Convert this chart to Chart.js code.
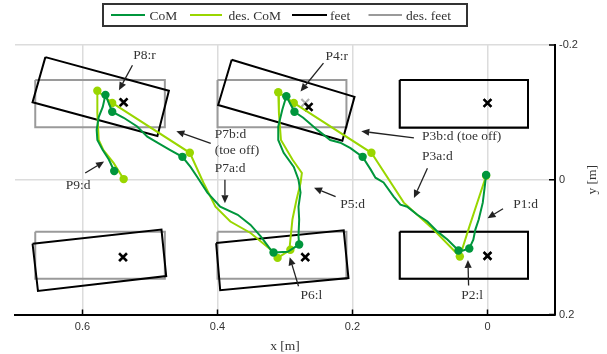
<!DOCTYPE html>
<html><head><meta charset="utf-8">
<script src="https://cdn.jsdelivr.net/npm/chart.js@4.4.0/dist/chart.umd.min.js"></script>
<style>html,body{margin:0;padding:0;background:#fff;}</style>
</head><body>
<canvas id="c" width="607" height="354"></canvas>
<script>
// ---- axes ----
const xTicks = [0.6, 0.4, 0.2, 0];
const xTickLabels = ['0.6', '0.4', '0.2', '0'];
const yTicks = [-0.2, 0, 0.2];
const yTickLabels = ['-0.2', '0', '0.2'];
const xTitle = 'x [m]';
const yTitle = 'y [m]';

// ---- legend ----
const legendNames = ['CoM', 'des. CoM', 'feet', 'des. feet'];

// ---- measured CoM [x, y, phase marker] ----
const com = [
  [0.002,-0.007,1],[0.007,0.034,0],[0.013,0.059,0],[0.018,0.074,0],[0.021,0.089,0],
  [0.027,0.102,1],[0.036,0.105,0],[0.043,0.105,1],[0.059,0.089,0],[0.074,0.077,0],
  [0.089,0.062,0],[0.104,0.052,0],[0.119,0.040,0],[0.129,0.037,0],[0.139,0.025,0],
  [0.154,0.004,0],[0.166,-0.003,0],[0.173,-0.015,0],[0.185,-0.034,1],[0.203,-0.047,0],
  [0.218,-0.055,0],[0.233,-0.059,0],[0.252,-0.074,0],[0.273,-0.092,0],[0.286,-0.101,1],
  [0.298,-0.124,1],[0.304,-0.104,0],[0.310,-0.079,0],[0.310,-0.059,0],[0.302,-0.040,0],
  [0.287,-0.019,0],[0.280,0.000,0],[0.277,0.019,0],[0.280,0.040,0],[0.279,0.059,0],
  [0.280,0.084,0],[0.279,0.096,1],[0.296,0.107,0],[0.317,0.108,1],[0.321,0.104,0],
  [0.336,0.084,0],[0.351,0.067,0],[0.370,0.052,0],[0.396,0.040,0],[0.415,0.019,0],
  [0.430,-0.004,0],[0.440,-0.019,0],[0.452,-0.034,1],[0.470,-0.044,0],[0.484,-0.052,0],
  [0.504,-0.064,0],[0.519,-0.079,0],[0.539,-0.092,0],[0.556,-0.101,1],[0.566,-0.126,1],
  [0.570,-0.108,0],[0.576,-0.093,0],[0.579,-0.074,0],[0.578,-0.059,0],[0.570,-0.044,0],
  [0.561,-0.030,0],[0.553,-0.013,1]
];

// ---- desired CoM [x, y, phase marker] ----
const desCom = [
  [0.002,-0.006,1],[0.027,0.070,0],[0.040,0.111,0],[0.041,0.114,1],[0.084,0.070,0],
  [0.124,0.034,0],[0.172,-0.040,1],[0.287,-0.114,1],[0.310,-0.130,1],[0.309,-0.099,0],
  [0.306,-0.059,0],[0.289,-0.030,0],[0.275,-0.010,0],[0.277,0.005,0],[0.283,0.030,0],
  [0.289,0.059,0],[0.293,0.099,0],[0.292,0.104,1],[0.311,0.116,1],[0.321,0.104,0],
  [0.351,0.079,0],[0.381,0.062,0],[0.403,0.040,0],[0.421,0.004,0],[0.441,-0.040,1],
  [0.556,-0.114,1],[0.578,-0.132,1],[0.578,-0.099,0],[0.576,-0.059,0],[0.569,-0.044,0],
  [0.554,-0.025,0],[0.539,-0.001,1]
];

// ---- feet outlines (corners) ----
const feetActual = [
  [[0.130,-0.148],[-0.060,-0.148],[-0.060,-0.077],[0.130,-0.077]],
  [[0.130,0.077],[-0.060,0.077],[-0.060,0.147],[0.130,0.147]],
  [[0.379,-0.178],[0.197,-0.123],[0.215,-0.058],[0.399,-0.111]],
  [[0.402,0.094],[0.213,0.075],[0.206,0.146],[0.396,0.164]],
  [[0.655,-0.182],[0.472,-0.132],[0.489,-0.065],[0.674,-0.115]],
  [[0.674,0.095],[0.483,0.074],[0.476,0.143],[0.666,0.165]]
];
const feetDesired = [
  [[0.130,-0.148],[-0.060,-0.148],[-0.060,-0.078],[0.130,-0.078]],
  [[0.130,0.077],[-0.060,0.077],[-0.060,0.147],[0.130,0.147]],
  [[0.400,-0.148],[0.209,-0.148],[0.209,-0.078],[0.400,-0.078]],
  [[0.400,0.077],[0.209,0.077],[0.209,0.147],[0.400,0.147]],
  [[0.670,-0.148],[0.478,-0.148],[0.478,-0.078],[0.670,-0.078]],
  [[0.670,0.077],[0.478,0.077],[0.478,0.147],[0.670,0.147]]
];
const anklesActual = [[0,-0.114],[0,0.113],[0.265,-0.108],[0.270,0.115],[0.539,-0.115],[0.540,0.115]];
const anklesDesired = [[0,-0.114],[0,0.113],[0.270,-0.114],[0.270,0.114],[0.540,-0.114],[0.540,0.114]];

// ---- annotations: [text, x, y] (left edge, middle) and arrows [x1,y1,x2,y2] ----
const annotLabels = [
  ['P8:r',0.525,-0.184],['P4:r',0.240,-0.183],['P7b:d',0.404,-0.067],['(toe off)',0.404,-0.044],
  ['P7a:d',0.404,-0.017],['P3b:d (toe off)',0.097,-0.064],['P3a:d',0.097,-0.035],['P9:d',0.625,0.009],
  ['P5:d',0.218,0.037],['P1:d',-0.038,0.037],['P6:l',0.277,0.172],['P2:l',0.039,0.172]
];
const annotArrows = [
  [0.526,-0.170,0.546,-0.133],[0.243,-0.173,0.277,-0.131],[0.410,-0.054,0.461,-0.072],
  [0.389,0.000,0.389,0.035],[0.109,-0.062,0.187,-0.072],[0.089,-0.017,0.109,0.027],
  [0.596,-0.010,0.568,-0.027],[0.225,0.025,0.257,0.012],[-0.023,0.043,0.000,0.057],
  [0.280,0.158,0.293,0.115],[0.028,0.157,0.029,0.119]
];

const C_COM = '#00963c', C_DES = '#99d600', C_FEET = '#000000', C_DESFEET = '#9a9a9a';
const SERIF = '"Liberation Serif", "DejaVu Serif", serif';

const pts = a => a.map(p => ({x: p[0], y: p[1]}));
const closed = poly => pts(poly.concat([poly[0]]));

const datasets = [];
datasets.push({label: legendNames[0], data: pts(com), showLine: true, borderColor: C_COM, backgroundColor: C_COM,
  borderWidth: 2, pointRadius: ctx => (com[ctx.dataIndex] && com[ctx.dataIndex][2]) ? 4.2 : 0,
  pointBorderWidth: 0, pointBackgroundColor: C_COM, order: 0});
datasets.push({label: legendNames[1], data: pts(desCom), showLine: true, borderColor: C_DES, backgroundColor: C_DES,
  borderWidth: 2, pointRadius: ctx => (desCom[ctx.dataIndex] && desCom[ctx.dataIndex][2]) ? 4.2 : 0,
  pointBorderWidth: 0, pointBackgroundColor: C_DES, order: 1});
datasets.push({label: 'ankles', data: pts(anklesActual), showLine: false, pointStyle: 'crossRot', pointRadius: 5.5,
  pointBorderWidth: 2.6, borderColor: C_FEET, backgroundColor: C_FEET, order: 2});
datasets.push({label: 'des ankles', data: pts(anklesDesired), showLine: false, pointStyle: 'crossRot', pointRadius: 5.5,
  pointBorderWidth: 2.2, borderColor: '#b0b0b0', backgroundColor: '#b0b0b0', order: 3});
feetActual.forEach((f, i) => datasets.push({label: legendNames[2] + i, data: closed(f), showLine: true,
  borderColor: C_FEET, borderWidth: 2, pointRadius: 0, order: 4}));
feetDesired.forEach((f, i) => datasets.push({label: legendNames[3] + i, data: closed(f), showLine: true,
  borderColor: C_DESFEET, borderWidth: 2, pointRadius: 0, order: 5}));

const overlay = {
  id: 'overlay',
  afterDatasetsDraw(chart) {
    const ctx = chart.ctx, xs = chart.scales.x, ys = chart.scales.y, ca = chart.chartArea;
    ctx.save();
    // inward ticks
    ctx.strokeStyle = '#000'; ctx.lineWidth = 1.5;
    xTicks.forEach(v => { const px = xs.getPixelForValue(v); ctx.beginPath(); ctx.moveTo(px, ca.bottom); ctx.lineTo(px, ca.bottom - 5); ctx.stroke(); });
    yTicks.forEach(v => { const py = ys.getPixelForValue(v); ctx.beginPath(); ctx.moveTo(ca.right, py); ctx.lineTo(ca.right - 6, py); ctx.stroke(); });
    // arrows
    ctx.strokeStyle = '#222'; ctx.fillStyle = '#222'; ctx.lineWidth = 1.3;
    annotArrows.forEach(a => {
      const x1 = xs.getPixelForValue(a[0]), y1 = ys.getPixelForValue(a[1]);
      const x2 = xs.getPixelForValue(a[2]), y2 = ys.getPixelForValue(a[3]);
      const ang = Math.atan2(y2 - y1, x2 - x1), L = 8, W = 3.6;
      const bx = x2 - L * Math.cos(ang), by = y2 - L * Math.sin(ang);
      ctx.beginPath(); ctx.moveTo(x1, y1); ctx.lineTo(bx, by); ctx.stroke();
      ctx.beginPath(); ctx.moveTo(x2, y2);
      ctx.lineTo(bx + W * Math.sin(ang), by - W * Math.cos(ang));
      ctx.lineTo(bx - W * Math.sin(ang), by + W * Math.cos(ang));
      ctx.closePath(); ctx.fill();
    });
    // labels
    ctx.fillStyle = '#333'; ctx.font = '13.5px ' + SERIF; ctx.textAlign = 'left'; ctx.textBaseline = 'middle';
    annotLabels.forEach(l => ctx.fillText(l[0], xs.getPixelForValue(l[1]), ys.getPixelForValue(l[2])));
    // axis titles
    ctx.textAlign = 'center';
    ctx.fillText(xTitle, (ca.left + ca.right) / 2, 346);
    ctx.save(); ctx.translate(592, (ca.top + ca.bottom) / 2); ctx.rotate(-Math.PI / 2);
    ctx.fillText(yTitle, 0, 0); ctx.restore();
    // legend
    ctx.fillStyle = '#fff'; ctx.fillRect(103, 4, 364, 22);
    ctx.strokeStyle = '#333'; ctx.lineWidth = 2; ctx.strokeRect(103, 4, 364, 22);
    const cols = [C_COM, C_DES, C_FEET, C_DESFEET];
    const lx = [[111, 145, 149.5], [190, 222, 228.5], [292, 327, 330], [368.5, 402, 406]];
    ctx.textAlign = 'left'; ctx.font = '13.5px ' + SERIF; ctx.fillStyle = '#333';
    legendNames.forEach((n, i) => {
      ctx.strokeStyle = cols[i]; ctx.lineWidth = 2;
      ctx.beginPath(); ctx.moveTo(lx[i][0], 15); ctx.lineTo(lx[i][1], 15); ctx.stroke();
      ctx.fillStyle = '#333'; ctx.fillText(n, lx[i][2], 16);
    });
    ctx.restore();
  }
};

new Chart(document.getElementById('c'), {
  type: 'scatter',
  data: {datasets},
  options: {
    responsive: false, animation: false, devicePixelRatio: 1,
    layout: {padding: {left: 15, top: 45, right: 0, bottom: 0}},
    plugins: {legend: {display: false}, tooltip: {enabled: false}},
    scales: {
      x: {type: 'linear', position: 'bottom', min: -0.1, max: 0.7, reverse: true,
        afterBuildTicks: s => { s.ticks = xTicks.map(v => ({value: v})); },
        afterFit: s => { s.height = 39.5; },
        ticks: {callback: v => xTickLabels[xTicks.indexOf(v)], font: {family: '"Liberation Sans", Arial, sans-serif', size: 11},
          color: '#333', padding: 6, maxRotation: 0, autoSkip: false},
        grid: {color: '#dcdcdc', lineWidth: 1.5, drawTicks: false},
        border: {display: true, color: '#000', width: 2}},
      y: {type: 'linear', position: 'right', min: -0.2, max: 0.2, reverse: true,
        afterBuildTicks: s => { s.ticks = yTicks.map(v => ({value: v})); },
        afterFit: s => { s.width = 52; },
        ticks: {callback: v => yTickLabels[yTicks.indexOf(v)], font: {family: '"Liberation Sans", Arial, sans-serif', size: 11},
          color: '#333', padding: 4, autoSkip: false},
        grid: {color: '#dcdcdc', lineWidth: 1.5, drawTicks: false},
        border: {display: true, color: '#000', width: 2}}
    }
  },
  plugins: [overlay]
});
</script>
</body></html>
